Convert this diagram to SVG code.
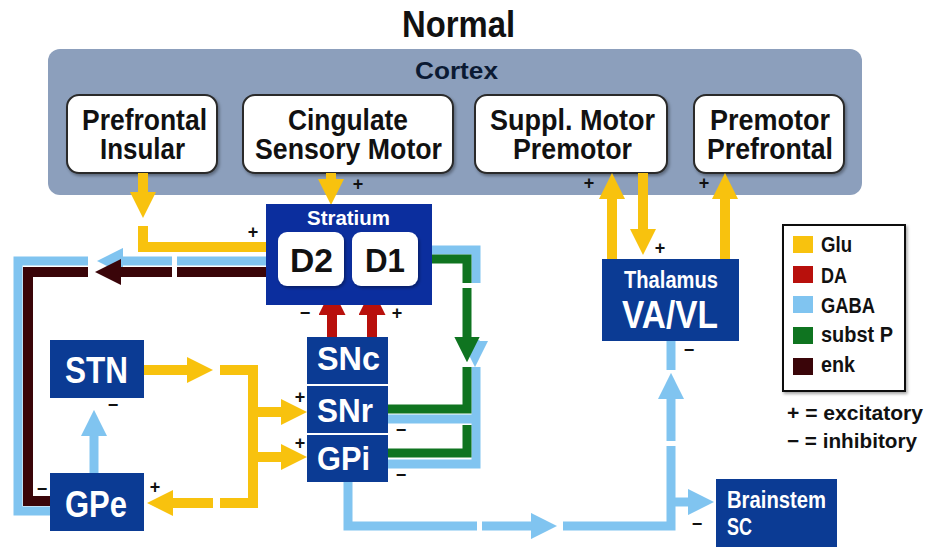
<svg xmlns="http://www.w3.org/2000/svg" width="927" height="550" viewBox="0 0 927 550">
<style>
text{font-family:'Liberation Sans Narrow','Liberation Sans',Arial,sans-serif;font-weight:bold}
.ttl{font-size:37px;fill:#111}
.ctx{font-size:24px;fill:#0b1a33}
.cb{font-size:29px;fill:#111}
.nd{font-size:36px;fill:#fff}
.sm{font-size:23px;fill:#fff}
.dd{font-size:33px;fill:#111}
.lg{font-size:22px;fill:#111}
.sg{font-size:18px;fill:#111}
.wbox{fill:#fff;stroke:#2a2a2a;stroke-width:2}
.nbox{fill:#0b3b94}
.c{fill:none;stroke-linejoin:miter;stroke-linecap:butt}
.y{stroke:#f8c20e;stroke-width:10}
.b{stroke:#80c4f0;stroke-width:9}
.r{stroke:#b8100c;stroke-width:10}
.g{stroke:#0f7420;stroke-width:9}
.k{stroke:#3a0509;stroke-width:10}
</style>
<defs>
<filter id="sh" x="-10%" y="-10%" width="130%" height="130%"><feDropShadow dx="1.5" dy="2" stdDeviation="1.5" flood-color="#000" flood-opacity="0.35"/></filter>
<marker id="ay" viewBox="0 0 10 10" refX="0" refY="5" markerWidth="2.6" markerHeight="2.6" orient="auto"><path d="M0,0L10,5L0,10z" fill="#f8c20e"/></marker>
<marker id="ab" viewBox="0 0 10 10" refX="0" refY="5" markerWidth="2.9" markerHeight="2.9" orient="auto"><path d="M0,0L10,5L0,10z" fill="#80c4f0"/></marker>
<marker id="ar" viewBox="0 0 10 10" refX="0" refY="5" markerWidth="2.7" markerHeight="2.7" orient="auto"><path d="M0,0L10,5L0,10z" fill="#b8100c"/></marker>
<marker id="ag" viewBox="0 0 10 10" refX="0" refY="5" markerWidth="2.8" markerHeight="2.8" orient="auto"><path d="M0,0L10,5L0,10z" fill="#0f7420"/></marker>
<marker id="ak" viewBox="0 0 10 10" refX="0" refY="5" markerWidth="2.6" markerHeight="2.6" orient="auto"><path d="M0,0L10,5L0,10z" fill="#3a0509"/></marker>
</defs>
<rect width="927" height="550" fill="#fff"/>
<text class="ttl" x="402" y="37" textLength="113" lengthAdjust="spacingAndGlyphs">Normal</text>

<g id="cortex">
<rect x="48" y="49" width="814" height="146" rx="12" fill="#8c9fbc"/>
<text class="ctx" x="415" y="79" textLength="83" lengthAdjust="spacingAndGlyphs">Cortex</text>
</g>
<g id="prefrontal-insular">
<rect class="wbox" x="67" y="95" width="150" height="78" rx="12" filter="url(#sh)"/>
<text class="cb" x="82" y="130" textLength="125" lengthAdjust="spacingAndGlyphs">Prefrontal</text>
<text class="cb" x="100" y="159" textLength="85" lengthAdjust="spacingAndGlyphs">Insular</text>
</g>
<g id="cingulate-sensory-motor">
<rect class="wbox" x="243" y="95" width="210" height="78" rx="12" filter="url(#sh)"/>
<text class="cb" x="288" y="130" textLength="120" lengthAdjust="spacingAndGlyphs">Cingulate</text>
<text class="cb" x="255" y="159" textLength="187" lengthAdjust="spacingAndGlyphs">Sensory Motor</text>
</g>
<g id="suppl-motor-premotor">
<rect class="wbox" x="475" y="95" width="192" height="78" rx="12" filter="url(#sh)"/>
<text class="cb" x="490" y="130" textLength="165" lengthAdjust="spacingAndGlyphs">Suppl. Motor</text>
<text class="cb" x="513" y="159" textLength="119" lengthAdjust="spacingAndGlyphs">Premotor</text>
</g>
<g id="premotor-prefrontal">
<rect class="wbox" x="694" y="95" width="150" height="78" rx="12" filter="url(#sh)"/>
<text class="cb" x="710" y="130" textLength="120" lengthAdjust="spacingAndGlyphs">Premotor</text>
<text class="cb" x="707" y="159" textLength="126" lengthAdjust="spacingAndGlyphs">Prefrontal</text>
</g>

<g id="connectors">
<!-- enk / GABA D2 to GPe -->
<path class="c b" d="M278,261H177"/>
<path class="c b" d="M172,261H123" marker-end="url(#ab)"/>
<path class="c b" d="M88,261H18V511H50"/>
<path class="c k" d="M278,272H177"/>
<path class="c k" d="M172,272H121" marker-end="url(#ak)"/>
<path class="c k" d="M88,272H28V501H50"/>
<!-- Glu -->
<path class="c y" d="M143,173V192" marker-end="url(#ay)"/>
<path class="c y" d="M143,226V247H278"/>
<path class="c y" d="M331,173V179" marker-end="url(#ay)"/>
<path class="c y" d="M144,370H187" marker-end="url(#ay)"/>
<path class="c y" d="M220,370H253V503H220"/>
<path class="c y" d="M213,503H173" marker-end="url(#ay)"/>
<path class="c y" d="M253,412H281" marker-end="url(#ay)"/>
<path class="c y" d="M253,457H281" marker-end="url(#ay)"/>
<path class="c y" d="M612,259V199" marker-end="url(#ay)"/>
<path class="c y" d="M643,173V229" marker-end="url(#ay)"/>
<path class="c y" d="M725,259V199" marker-end="url(#ay)"/>
<!-- DA -->
<path class="c r" d="M332,337V315" marker-end="url(#ar)"/>
<path class="c r" d="M372,337V315" marker-end="url(#ar)"/>
<!-- GABA / subst P from D1 -->
<path class="c b" d="M418,250H476V283"/>
<path class="c b" d="M475,340V341" marker-end="url(#ab)"/>
<path class="c b" d="M476,367V464H388"/>
<path class="c b" d="M476,419H388"/>
<path class="c g" d="M418,259H467V283"/>
<path class="c g" d="M467,288V337" marker-end="url(#ag)"/>
<path class="c g" d="M467,367V409H388"/>
<path class="c g" d="M467,425V453H388"/>
<!-- GABA GPe to STN -->
<path class="c b" d="M94,473V436" marker-end="url(#ab)"/>
<!-- GABA GPi to thalamus / brainstem -->
<path class="c b" d="M348,482V526H477"/>
<path class="c b" d="M482,526H531" marker-end="url(#ab)"/>
<path class="c b" d="M563,526H671V446"/>
<path class="c b" d="M671,441V399" marker-end="url(#ab)"/>
<path class="c b" d="M671,341V370"/>
<path class="c b" d="M671,502H688" marker-end="url(#ab)"/>
</g>

<g id="stratium">
<rect x="266" y="204" width="166" height="101" fill="#0b2e9e"/>
<text class="sm" x="307" y="225" style="font-size:20px" textLength="83" lengthAdjust="spacingAndGlyphs">Stratium</text>
</g>
<g id="d2">
<rect x="278" y="232" width="66" height="54" rx="9" fill="#fff" filter="url(#sh)"/>
<text class="dd" x="290" y="272" textLength="43" lengthAdjust="spacingAndGlyphs">D2</text>
</g>
<g id="d1">
<rect x="352" y="232" width="66" height="54" rx="9" fill="#fff" filter="url(#sh)"/>
<text class="dd" x="365" y="272" textLength="40" lengthAdjust="spacingAndGlyphs">D1</text>
</g>
<g id="stn">
<rect class="nbox" x="50" y="340" width="94" height="58"/>
<text class="nd" x="65" y="383" textLength="63" lengthAdjust="spacingAndGlyphs">STN</text>
</g>
<g id="gpe">
<rect class="nbox" x="50" y="473" width="94" height="58"/>
<text class="nd" x="65" y="517" textLength="62" lengthAdjust="spacingAndGlyphs">GPe</text>
</g>
<g id="snc">
<rect class="nbox" x="307" y="337" width="81" height="47"/>
<text class="nd" x="317" y="370" style="font-size:34px" textLength="63" lengthAdjust="spacingAndGlyphs">SNc</text>
</g>
<g id="snr">
<rect class="nbox" x="307" y="386" width="81" height="47"/>
<text class="nd" x="317" y="422" style="font-size:34px" textLength="56" lengthAdjust="spacingAndGlyphs">SNr</text>
</g>
<g id="gpi">
<rect class="nbox" x="307" y="435" width="81" height="47"/>
<text class="nd" x="317" y="470" style="font-size:34px" textLength="53" lengthAdjust="spacingAndGlyphs">GPi</text>
</g>
<g id="thalamus">
<rect class="nbox" x="602" y="259" width="137" height="82"/>
<text class="sm" x="624" y="288" textLength="94" lengthAdjust="spacingAndGlyphs">Thalamus</text>
<text class="nd" x="622" y="328" style="font-size:38px" textLength="96" lengthAdjust="spacingAndGlyphs">VA/VL</text>
</g>
<g id="brainstem">
<rect class="nbox" x="716" y="479" width="121" height="68"/>
<text class="sm" x="727" y="508" textLength="99" lengthAdjust="spacingAndGlyphs">Brainstem</text>
<text class="sm" x="727" y="535" textLength="25" lengthAdjust="spacingAndGlyphs">SC</text>
</g>

<g id="signs" text-anchor="middle">
<text class="sg" x="253" y="238">+</text>
<text class="sg" x="358" y="190">+</text>
<text class="sg" x="589" y="189">+</text>
<text class="sg" x="704" y="189">+</text>
<text class="sg" x="660" y="254">+</text>
<text class="sg" x="305" y="319">−</text>
<text class="sg" x="397" y="319">+</text>
<text class="sg" x="300" y="403">+</text>
<text class="sg" x="300" y="449">+</text>
<text class="sg" x="401" y="436">−</text>
<text class="sg" x="401" y="481">−</text>
<text class="sg" x="113" y="411">−</text>
<text class="sg" x="42" y="495">−</text>
<text class="sg" x="155" y="493">+</text>
<text class="sg" x="689" y="356">−</text>
<text class="sg" x="697" y="530">−</text>
</g>

<g id="legend">
<rect x="783" y="225" width="122" height="166" fill="#fff" stroke="#111" stroke-width="2" filter="url(#sh)"/>
<rect x="793" y="236" width="20" height="17" fill="#f8c20e"/>
<rect x="793" y="266" width="20" height="17" fill="#b8100c"/>
<rect x="793" y="296" width="20" height="17" fill="#80c4f0"/>
<rect x="793" y="327" width="20" height="17" fill="#0f7420"/>
<rect x="793" y="358" width="20" height="17" fill="#3a0509"/>
<text class="lg" x="821" y="252" textLength="31" lengthAdjust="spacingAndGlyphs">Glu</text>
<text class="lg" x="821" y="283" textLength="26" lengthAdjust="spacingAndGlyphs">DA</text>
<text class="lg" x="821" y="313" textLength="54" lengthAdjust="spacingAndGlyphs">GABA</text>
<text class="lg" x="821" y="342" textLength="72" lengthAdjust="spacingAndGlyphs">subst P</text>
<text class="lg" x="821" y="372" textLength="34" lengthAdjust="spacingAndGlyphs">enk</text>
<text class="lg" x="787" y="420" style="font-size:21px" textLength="136" lengthAdjust="spacingAndGlyphs">+ = excitatory</text>
<text class="lg" x="787" y="448" style="font-size:21px" textLength="130" lengthAdjust="spacingAndGlyphs">− = inhibitory</text>
</g>
</svg>
